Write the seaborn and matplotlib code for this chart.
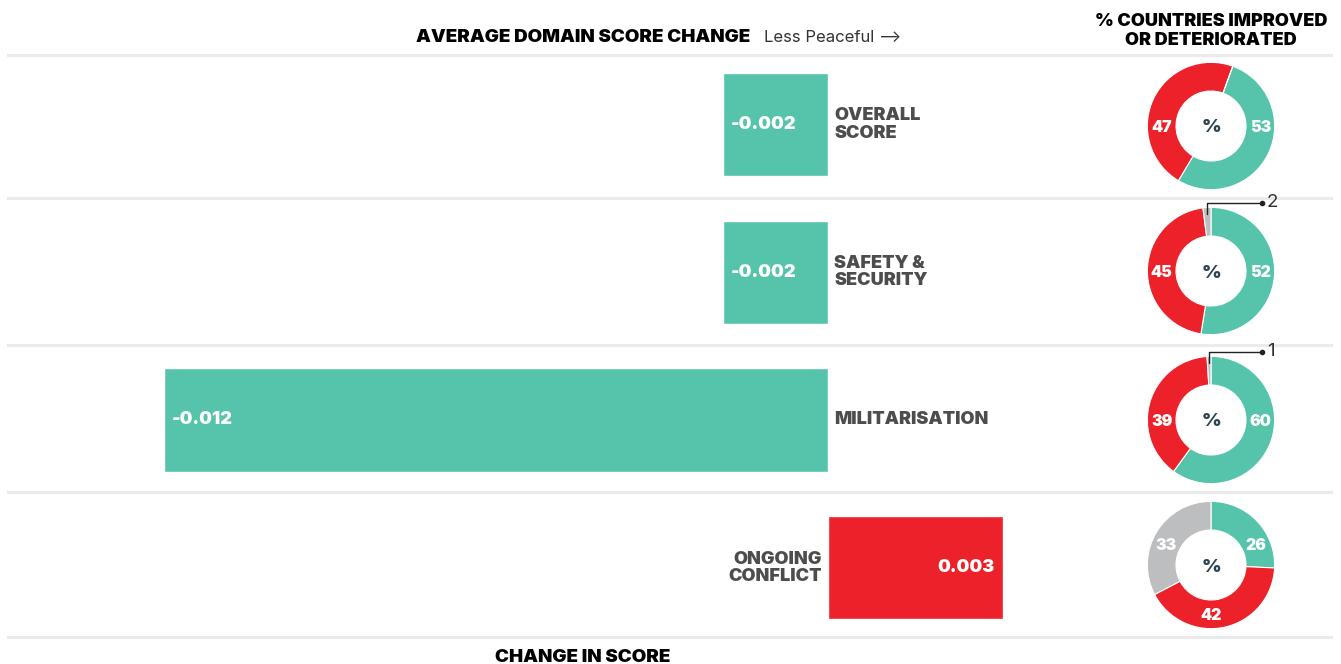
import matplotlib
matplotlib.use("Agg")
import matplotlib.pyplot as plt
import seaborn as sns
import pandas as pd
import numpy as np

# ---- data ----
categories = ["OVERALL\nSCORE", "SAFETY &\nSECURITY", "MILITARISATION", "ONGOING\nCONFLICT"]
score_change = [-0.0019, -0.0019, -0.0120, 0.00316]
score_labels = ["-0.002", "-0.002", "-0.012", "0.003"]
pct_improved = [53, 52, 60, 26]
pct_deteriorated = [47, 45, 39, 42]
pct_nochange = [0, 2, 1, 33]

GREEN = "#56C3AB"
RED = "#EC2129"
GRAY = "#BDBEC0"
DARK = "#4D4D4D"
SEP = "#EBEBEB"
HEAVY = 900

sns.set_theme(style="white")
plt.rcParams["font.family"] = ["Inter", "Roboto", "DejaVu Sans"]

W, H = 1341, 664
fig = plt.figure(figsize=(W / 100, H / 100), dpi=100)
fig.patch.set_facecolor("white")

def fx(px):
    return px / W

def fy(py):
    return 1 - py / H

# bar axes spans full width; row centres every ~147.7 px starting at 124.5
row0, step = 124.5, 147.7
top_px = row0 - step / 2
bot_px = top_px + 4 * step
ax = fig.add_axes([fx(7), fy(bot_px), fx(1333 - 7), (bot_px - top_px) / H])
zero_px = 828
px_per_unit = 664 / 0.012
ax.set_xlim(-(zero_px - 7) / px_per_unit, (1333 - zero_px) / px_per_unit)

df = pd.DataFrame({"cat": categories, "val": score_change})
colors = [GREEN if v < 0 else RED for v in score_change]
sns.barplot(data=df, y="cat", x="val", hue="cat", palette=colors, orient="h",
            width=0.70, legend=False, ax=ax, saturation=1)
ax.set_ylim(3.5, -0.5)
for s in ax.spines.values():
    s.set_visible(False)
ax.set_xticks([])
ax.set_yticks([])
ax.set_xlabel("")
ax.set_ylabel("")
sep_rows = [-0.47, 0.5, 1.49, 2.49, 3.47]
for y in sep_rows:
    ax.axhline(y, color=SEP, lw=2.2, zorder=0)

pad = 8 / px_per_unit
for i, (v, lab, cat) in enumerate(zip(score_change, score_labels, categories)):
    if v < 0:
        ax.text(v + pad, i, lab, ha="left", va="center", color="white",
                fontsize=13, fontweight=HEAVY)
        ax.text(pad * 0.75, i, cat, ha="left", va="center", color=DARK,
                fontsize=13, fontweight=HEAVY, linespacing=1.0)
    else:
        ax.text(v - pad, i, lab, ha="right", va="center", color="white",
                fontsize=13, fontweight=HEAVY)
        ax.text(-pad * 0.75, i, cat, ha="right", va="center", color=DARK,
                fontsize=13, fontweight=HEAVY, linespacing=1.0)

# headers
fig.text(fx(750), fy(37), "AVERAGE DOMAIN SCORE CHANGE", ha="right", va="center",
         fontsize=13.5, fontweight=HEAVY, color="black")
fig.text(fx(764), fy(37), "Less Peaceful \u27F6", ha="left", va="center",
         fontsize=12, color="#333333", family=["Inter", "DejaVu Sans"])
fig.text(fx(1211), fy(31), "% COUNTRIES IMPROVED\nOR DETERIORATED", ha="center",
         va="center", fontsize=13, fontweight=HEAVY, color="black", linespacing=1.12)
fig.text(fx(583), fy(657), "CHANGE IN SCORE", ha="center", va="center",
         fontsize=13.5, fontweight=HEAVY, color="black")

# donuts
row_centers = [126, 271, 420, 565]
start_offsets = [20, 0, 0, 0]
size = 140
for i in range(4):
    cy = row_centers[i]
    dax = fig.add_axes([fx(1211 - size / 2), fy(cy + size / 2), size / W, size / H])
    vals = [pct_improved[i], pct_deteriorated[i], pct_nochange[i]]
    cols = [GREEN, RED, GRAY]
    dax.pie(vals, colors=cols, startangle=90 - start_offsets[i],
            counterclock=False, radius=1.0,
            wedgeprops=dict(width=0.45, edgecolor="white", linewidth=0.8))
    dax.set_xlim(-1.1, 1.1)
    dax.set_ylim(-1.1, 1.1)
    dax.set_aspect("equal")
    dax.axis("off")
    dax.text(0, 0, "%", ha="center", va="center_baseline", fontsize=13.5,
             fontweight=HEAVY, color="#2E4453")
    total = sum(vals)
    three_way = pct_nochange[i] >= 5
    label_angles = [65, 180, 295] if three_way else [90, 270, None]
    ang = 0
    for k, v in enumerate(vals):
        span = v / total * 360
        mid = np.deg2rad(ang + span / 2)
        if v >= 5:
            r = 0.775
            la = np.deg2rad(label_angles[k])
            dax.text(r * np.sin(la), r * np.cos(la), str(v), ha="center",
                     va="center_baseline", fontsize=11.5, fontweight=HEAVY,
                     color="white")
        elif v > 0:
            x0 = 1.0 * np.sin(mid)
            ytop = 1.07
            dax.plot([x0, x0, 0.8], [0.9, ytop, ytop], color="#222222", lw=1.0,
                     clip_on=False)
            dax.plot([0.8], [ytop], "o", color="#222222", ms=3, clip_on=False)
            dax.text(0.88, ytop, str(v), ha="left", va="center", fontsize=13.5,
                     color="#333333", clip_on=False)
        ang += span

fig.savefig("out.png", dpi=100, facecolor="white")
